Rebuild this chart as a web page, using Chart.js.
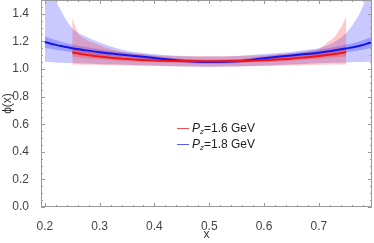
<!DOCTYPE html>
<html>
<head>
<meta charset="utf-8">
<script src="https://cdn.jsdelivr.net/npm/chart.js@4/dist/chart.umd.min.js"></script>
<style>
  html, body { margin: 0; padding: 0; background: #fff; }
  #wrap { position: relative; width: 374px; height: 243px; }
  #legend { position: absolute; left: 0; top: 0; font-family: "Liberation Sans", Arial, sans-serif; font-size: 12px; color: #222; }
  .item { position: absolute; left: 177px; height: 16px; white-space: nowrap; }
  .sw { position: absolute; left: 0; width: 12px; height: 0; border-top: 1.5px solid; }
  .lbl { position: absolute; left: 15px; top: 0; line-height: 14px; }
  .lbl i { font-style: italic; }
  .lbl sub { font-size: 8px; font-style: italic; vertical-align: -2px; line-height: 0; }
</style>
</head>
<body>
<div id="wrap">
  <canvas id="c" width="374" height="243"></canvas>
  <div id="legend">
    <div class="item" style="top:121px"><div class="sw" style="top:7px;border-color:#f05050"></div><div class="lbl"><i>P</i><sub>z</sub>=1.6 GeV</div></div>
    <div class="item" style="top:137px"><div class="sw" style="top:7px;border-color:#5a5af0"></div><div class="lbl"><i>P</i><sub>z</sub>=1.8 GeV</div></div>
  </div>
</div>
<script>
// ---- data ----
const xTicks = [0.2, 0.3, 0.4, 0.5, 0.6, 0.7];
const yTicks = [0.0, 0.2, 0.4, 0.6, 0.8, 1.0, 1.2, 1.4];

// Pz = 1.8 GeV (blue)
const xBlue      = [0.2, 0.21, 0.22, 0.23, 0.25, 0.275, 0.3, 0.325, 0.35, 0.375, 0.4, 0.45, 0.5, 0.55, 0.6, 0.625, 0.65, 0.675, 0.7, 0.725, 0.75, 0.765, 0.78, 0.79, 0.8];
const blueMid    = [1.195, 1.185, 1.175, 1.166, 1.150, 1.135, 1.122, 1.110, 1.100, 1.090, 1.080, 1.060, 1.051, 1.056, 1.078, 1.088, 1.098, 1.108, 1.118, 1.132, 1.149, 1.160, 1.174, 1.186, 1.198];
const blueInHi   = [1.237, 1.223, 1.210, 1.198, 1.178, 1.159, 1.143, 1.129, 1.117, 1.106, 1.095, 1.074, 1.064, 1.070, 1.093, 1.104, 1.115, 1.127, 1.139, 1.156, 1.177, 1.191, 1.208, 1.223, 1.238];
const blueInLo   = [1.153, 1.147, 1.140, 1.134, 1.122, 1.111, 1.101, 1.091, 1.083, 1.074, 1.065, 1.046, 1.038, 1.042, 1.063, 1.072, 1.081, 1.089, 1.097, 1.108, 1.121, 1.129, 1.140, 1.149, 1.158];
const blueOutHi  = [2.300, 1.850, 1.520, 1.420, 1.296, 1.235, 1.192, 1.158, 1.133, 1.117, 1.106, 1.094, 1.090, 1.095, 1.108, 1.116, 1.124, 1.138, 1.150, 1.188, 1.260, 1.340, 1.450, 1.570, 1.750];
const blueOutLo  = [1.052, 1.050, 1.048, 1.046, 1.043, 1.040, 1.037, 1.034, 1.031, 1.028, 1.025, 1.019, 1.015, 1.018, 1.025, 1.029, 1.033, 1.037, 1.041, 1.045, 1.048, 1.050, 1.051, 1.052, 1.053];

// Pz = 1.6 GeV (red)
const xRed       = [0.25, 0.26, 0.27, 0.285, 0.3, 0.325, 0.35, 0.375, 0.4, 0.45, 0.5, 0.55, 0.6, 0.625, 0.65, 0.675, 0.7, 0.715, 0.73, 0.74, 0.75];
const redMid     = [1.120, 1.113, 1.106, 1.097, 1.090, 1.080, 1.072, 1.066, 1.062, 1.058, 1.057, 1.058, 1.064, 1.069, 1.075, 1.084, 1.094, 1.101, 1.109, 1.115, 1.121];
const redInHi    = [1.150, 1.140, 1.131, 1.119, 1.110, 1.097, 1.087, 1.080, 1.075, 1.070, 1.069, 1.070, 1.077, 1.083, 1.090, 1.101, 1.114, 1.123, 1.134, 1.142, 1.151];
const redInLo    = [1.090, 1.086, 1.081, 1.075, 1.070, 1.063, 1.057, 1.052, 1.049, 1.046, 1.045, 1.046, 1.051, 1.055, 1.060, 1.067, 1.074, 1.079, 1.084, 1.088, 1.091];
const redOutHi   = [1.370, 1.265, 1.225, 1.195, 1.170, 1.140, 1.120, 1.108, 1.100, 1.093, 1.092, 1.094, 1.100, 1.106, 1.113, 1.122, 1.145, 1.190, 1.240, 1.300, 1.378];
const redOutLo   = [1.033, 1.032, 1.031, 1.030, 1.029, 1.027, 1.025, 1.023, 1.022, 1.020, 1.019, 1.020, 1.022, 1.024, 1.026, 1.028, 1.030, 1.031, 1.032, 1.033, 1.033];

const pts = (xs, ys) => xs.map((x, i) => ({ x: x, y: ys[i] }));

const band = (data, color, fill) => ({
  data: data, borderWidth: 0, borderColor: 'rgba(0,0,0,0)', pointRadius: 0,
  backgroundColor: color, fill: fill, cubicInterpolationMode: 'monotone'
});

const frameTicks = {
  id: 'frameTicks',
  afterDraw(chart) {
    const { ctx, chartArea: a, scales: { x, y } } = chart;
    ctx.save();
    ctx.strokeStyle = '#9a9a9a';
    ctx.lineWidth = 1;
    ctx.beginPath();
    ctx.rect(a.left + 0.5, a.top + 0.5, a.right - a.left - 1, a.bottom - a.top - 1);
    ctx.stroke();
    ctx.beginPath();
    for (let v = 0.2; v <= 0.7901; v += 0.02) {
      const px = Math.round(x.getPixelForValue(v)) + 0.5;
      const major = Math.abs(v * 10 - Math.round(v * 10)) < 1e-6;
      const L = major ? 4 : 2;
      ctx.moveTo(px, a.bottom); ctx.lineTo(px, a.bottom - L);
      ctx.moveTo(px, a.top); ctx.lineTo(px, a.top + L);
    }
    for (let v = 0; v <= 1.5001; v += 0.05) {
      const py = Math.round(y.getPixelForValue(v)) + 0.5;
      const major = Math.abs(v * 5 - Math.round(v * 5)) < 1e-6;
      const L = major ? 4 : 2;
      ctx.moveTo(a.left, py); ctx.lineTo(a.left + L, py);
      ctx.moveTo(a.right, py); ctx.lineTo(a.right - L, py);
    }
    ctx.stroke();
    ctx.restore();
  }
};

new Chart(document.getElementById('c'), {
  type: 'line',
  data: {
    datasets: [
      { data: pts(xRed, redMid), borderColor: '#f01414', borderWidth: 2, pointRadius: 0, fill: false, cubicInterpolationMode: 'monotone' },
      { data: pts(xBlue, blueMid), borderColor: '#1414e6', borderWidth: 2, pointRadius: 0, fill: false, cubicInterpolationMode: 'monotone' },
      band(pts(xRed, redInHi), 'rgba(255,0,0,0.22)', false),
      band(pts(xRed, redInLo), 'rgba(255,0,0,0.22)', '-1'),
      band(pts(xRed, redOutHi), 'rgba(255,30,30,0.24)', false),
      band(pts(xRed, redOutLo), 'rgba(255,30,30,0.24)', '-1'),
      band(pts(xBlue, blueInHi), 'rgba(0,0,255,0.22)', false),
      band(pts(xBlue, blueInLo), 'rgba(0,0,255,0.22)', '-1'),
      band(pts(xBlue, blueOutHi), 'rgba(30,30,255,0.24)', false),
      band(pts(xBlue, blueOutLo), 'rgba(30,30,255,0.24)', '-1')
    ]
  },
  options: {
    responsive: false,
    animation: false,
    events: [],
    layout: { padding: { left: 0, right: 2, top: 0, bottom: 0 } },
    plugins: { legend: { display: false }, tooltip: { enabled: false } },
    scales: {
      x: {
        type: 'linear', min: 0.193, max: 0.797,
        afterBuildTicks: s => { s.ticks = xTicks.map(v => ({ value: v })); },
        afterFit: s => { s.height = 36; s.paddingLeft = 0; s.paddingRight = 0; },
        grid: { display: false }, border: { display: false },
        ticks: { color: '#444', font: { family: 'Liberation Sans', size: 12 }, padding: 4, maxRotation: 0, autoSkip: false, callback: v => v.toFixed(1) },
        title: { display: true, text: 'x', color: '#333', font: { family: 'Liberation Sans', size: 12 }, padding: { top: 0, bottom: 1 } }
      },
      y: {
        type: 'linear', min: 0, max: 1.5,
        afterBuildTicks: s => { s.ticks = yTicks.map(v => ({ value: v })); },
        afterFit: s => { s.width = 41; s.paddingTop = 0; s.paddingBottom = 0; },
        grid: { display: false }, border: { display: false },
        ticks: { color: '#444', font: { family: 'Liberation Sans', size: 12 }, padding: 4, autoSkip: false, callback: v => v.toFixed(1) },
        title: { display: true, text: 'ϕ(x)', color: '#333', font: { family: 'Liberation Sans', size: 12 }, padding: { top: 0, bottom: 0 } }
      }
    }
  },
  plugins: [frameTicks]
});
</script>
</body>
</html>
